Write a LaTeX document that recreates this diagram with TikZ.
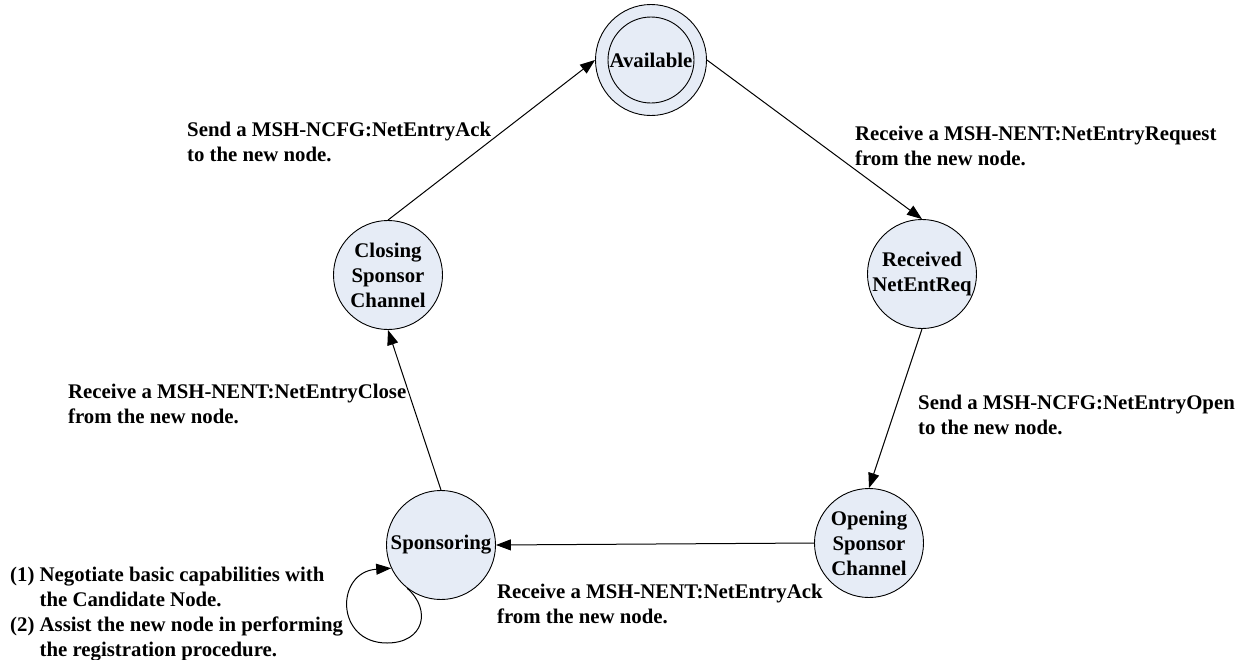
\documentclass[tikz,border=0pt]{standalone}
\usepackage{fontspec}
\setmainfont{Liberation Serif}
\usetikzlibrary{arrows.meta}
\definecolor{statefill}{HTML}{E6ECF6}
\begin{document}
\begin{tikzpicture}[x=1pt,y=-1pt,
  every node/.style={font=\fontsize{20.8}{25}\selectfont\bfseries},
  state/.style={circle,draw,fill=statefill,line width=0.9pt,minimum size=109pt,inner sep=0pt,align=center},
  trans/.style={line width=1pt,-{Triangle[length=15pt,width=11pt]}},
  note/.style={anchor=north west,align=left,inner sep=0pt,execute at begin node=\strut}]
\useasboundingbox (0,0) rectangle (1251,659);
\fill[white] (0,0) rectangle (1251,659);

% states
\node[state,minimum size=111pt] (avail) at (651,60) {};
\node[state,minimum size=86pt] (availin) at (avail) {Available};
\node[state] (recv) at (922,274) {Received\\NetEntReq};
\node[state] (open) at (869,543) {Opening\\Sponsor\\Channel};
\node[state] (spon) at (441,545) {Sponsoring};
\node[state] (clos) at (388,275) {Closing\\Sponsor\\Channel};

% transitions
\draw[trans] (avail.east) -- (recv.north);
\draw[trans] (recv.south) -- (open.north);
\draw[trans] (open.west) -- (spon.east);
\draw[trans] (spon.north) -- (clos.south);
\draw[trans] (clos.north) -- (avail.west);
\draw[trans] (spon.232) .. controls (432,610) and (424,643) .. (387,643)
  .. controls (335,643) and (335,572) .. (spon.205);

% transition labels (first baseline 17.5pt below the top of the strut)
\node[note] (l1) at (187,121.5) {Send a MSH-NCFG:NetEntryAck\\to the new node.};
\node[note] (l2) at (855,125.5) {Receive a MSH-NENT:NetEntryRequest\\from the new node.};
\node[note] (l3) at (918,394.5) {Send a MSH-NCFG:NetEntryOpen\\to the new node.};
\node[note] (l4) at (68,384) {Receive a MSH-NENT:NetEntryClose\\from the new node.};
\node[note] (l5) at (497,584) {Receive a MSH-NENT:NetEntryAck\\from the new node.};
\node[note] (l6) at (10,567) {(1) Negotiate basic capabilities with\\
  \phantom{(1) }the Candidate Node.\\
  (2) Assist the new node in performing\\
  \phantom{(2) }the registration procedure.};
\end{tikzpicture}
\end{document}
